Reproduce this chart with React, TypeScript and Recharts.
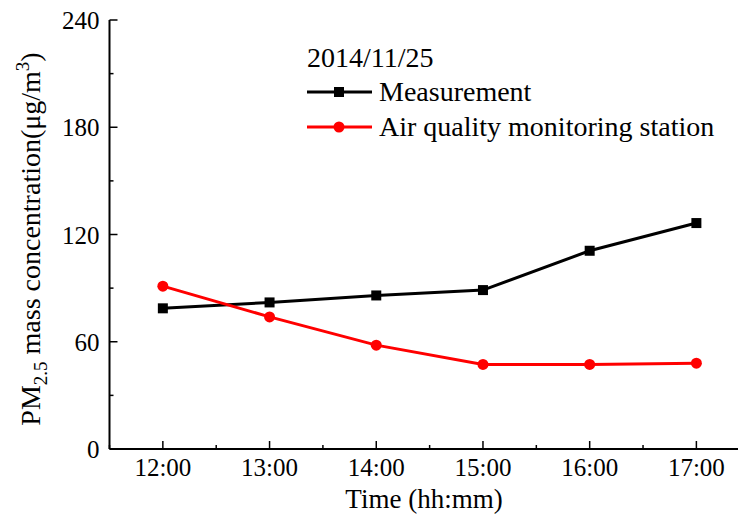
import { LineChart, Line, XAxis, YAxis, Customized } from "recharts";

// hours (12:00 .. 17:00)
const hours = [12, 13, 14, 15, 16, 17];
const measurement = [78.7, 82.0, 85.9, 88.9, 110.9, 126.4];
const station = [91.1, 73.9, 58.1, 47.3, 47.3, 48.0];

const xTicks = [11.5, 12, 12.5, 13, 13.5, 14, 14.5, 15, 15.5, 16, 16.5, 17];
const yTicks = [0, 30, 60, 90, 120, 150, 180, 210, 240];

const data = hours.map((h, i) => ({
  hour: h,
  measurement: measurement[i],
  station: station[i],
}));

const FONT = "'Liberation Serif', 'Times New Roman', serif";

const fmtHour = (v: number) => `${v}:00`;

function BottomTick(props: any) {
  const { x, y, payload } = props;
  const major = Number.isInteger(payload.value);
  return (
    <g>
      <line x1={x} y1={y} x2={x} y2={y - (major ? 8 : 4)} stroke="#000" strokeWidth={1.5} />
      {major && (
        <text x={x} y={y + 27} textAnchor="middle" fontFamily={FONT} fontSize={25} fill="#000">
          {fmtHour(payload.value)}
        </text>
      )}
    </g>
  );
}

function TopTick(props: any) {
  const { x, y, payload } = props;
  const major = Number.isInteger(payload.value);
  return <line x1={x} y1={y} x2={x} y2={y + (major ? 8 : 4)} stroke="#000" strokeWidth={1.5} />;
}

function LeftTick(props: any) {
  const { x, y, payload } = props;
  const major = payload.value % 60 === 0;
  return (
    <g>
      <line x1={x} y1={y} x2={x + (major ? 8 : 4)} y2={y} stroke="#000" strokeWidth={1.5} />
      {major && (
        <text x={x - 10} y={y + 9} textAnchor="end" fontFamily={FONT} fontSize={25} fill="#000">
          {payload.value}
        </text>
      )}
    </g>
  );
}

function SquareDot(props: any) {
  const { cx, cy } = props;
  if (cx == null || cy == null) return null;
  return <rect x={cx - 5} y={cy - 5} width={10} height={10} fill="#000" />;
}

function Titles() {
  return (
    <g fontFamily={FONT} fill="#000" fontSize={28}>
      <text x={424} y={508} textAnchor="middle" fontSize={27}>
        Time (hh:mm)
      </text>
      <text x={40} y={239} textAnchor="middle" transform="rotate(-90 40 239)">
        PM
        <tspan dy={7} fontSize={19}>2.5</tspan>
        <tspan dy={-7}> mass concentration(μg/m</tspan>
        <tspan dy={-11} fontSize={19}>3</tspan>
        <tspan dy={11}>)</tspan>
      </text>
      {/* legend */}
      <text x={307} y={67}>2014/11/25</text>
      <line x1={307} y1={92} x2={372} y2={92} stroke="#000" strokeWidth={3} />
      <rect x={334} y={87} width={10} height={10} fill="#000" />
      <text x={379} y={101}>Measurement</text>
      <line x1={307} y1={127} x2={372} y2={127} stroke="#ff0000" strokeWidth={3} />
      <circle cx={339} cy={127} r={5.5} fill="#ff0000" />
      <text x={379} y={136}>Air quality monitoring station</text>
    </g>
  );
}

export default function App() {
  return (
    <div style={{ position: "absolute", left: 0, top: 0, background: "#fff" }}>
      <LineChart
        width={739}
        height={514}
        data={data}
        margin={{ top: 20, right: 1, left: 0, bottom: 0 }}
      >
        <XAxis
          dataKey="hour"
          type="number"
          domain={[11.5, 17.39]}
          ticks={xTicks}
          allowDataOverflow
          height={65}
          tickSize={0}
          tickMargin={0}
          tickLine={false}
          axisLine={{ stroke: "#000", strokeWidth: 2 }}
          tick={<BottomTick />}
          interval={0}
        />
        <XAxis
          xAxisId="top"
          orientation="top"
          dataKey="hour"
          type="number"
          domain={[11.5, 17.39]}
          ticks={xTicks}
          allowDataOverflow
          height={0}
          tickSize={0}
          tickMargin={0}
          tickLine={false}
          axisLine={{ stroke: "#000", strokeWidth: 2 }}
          tick={<TopTick />}
          interval={0}
        />
        <YAxis
          type="number"
          domain={[0, 240]}
          ticks={yTicks}
          width={109.5}
          tickSize={0}
          tickMargin={0}
          tickLine={false}
          axisLine={{ stroke: "#000", strokeWidth: 2 }}
          tick={<LeftTick />}
          interval={0}
        />
        <Line
          type="linear"
          dataKey="measurement"
          stroke="#000"
          strokeWidth={3}
          dot={<SquareDot />}
          activeDot={false}
          isAnimationActive={false}
        />
        <Line
          type="linear"
          dataKey="station"
          stroke="#ff0000"
          strokeWidth={3}
          dot={{ r: 5.5, fill: "#ff0000", stroke: "#ff0000", strokeWidth: 0 }}
          activeDot={false}
          isAnimationActive={false}
        />
        <Customized component={Titles} />
      </LineChart>
    </div>
  );
}
